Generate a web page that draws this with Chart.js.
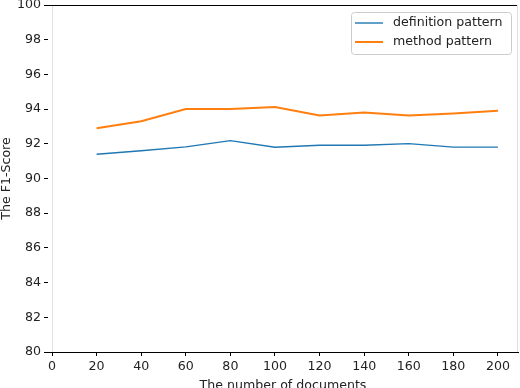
<!DOCTYPE html>
<html>
<head>
<meta charset="utf-8">
<script src="https://cdn.jsdelivr.net/npm/chart.js@4.4.1/dist/chart.umd.min.js"></script>
<style>
html,body{margin:0;padding:0;background:#fff;}
#wrap{width:520px;height:388px;position:relative;}
</style>
</head>
<body>
<div id="wrap"><canvas id="c" width="520" height="388"></canvas></div>
<script>
const docs = [20, 40, 60, 80, 100, 120, 140, 160, 180, 200];
const definitionPattern = [91.4, 91.6, 91.82, 92.18, 91.8, 91.92, 91.92, 92.01, 91.81, 91.81];
const methodPattern = [92.9, 93.3, 94.0, 94.0, 94.12, 93.63, 93.8, 93.63, 93.75, 93.9];
const seriesLabels = ['definition pattern', 'method pattern'];
const xTicks = [0, 20, 40, 60, 80, 100, 120, 140, 160, 180, 200];
const yTicks = [80, 82, 84, 86, 88, 90, 92, 94, 96, 98, 100];

const FONT = 'DejaVu Sans';
const FS = 12.6;
const toPts = (xs, ys) => xs.map((x, i) => ({x: x, y: ys[i]}));

const framePlugin = {
  id: 'frame',
  beforeDatasetsDraw(chart) {
    const {ctx, chartArea: a, scales} = chart;
    const x0 = Math.round(scales.x.getPixelForValue(0)) + 0.5;
    ctx.save();
    ctx.strokeStyle = '#e0e0e0';
    ctx.lineWidth = 1;
    ctx.beginPath();
    ctx.moveTo(x0, a.top);
    ctx.lineTo(x0, a.bottom);
    ctx.stroke();
    ctx.restore();
  },
  afterDraw(chart) {
    const {ctx, chartArea: a} = chart;
    ctx.save();
    ctx.strokeStyle = '#000';
    ctx.lineWidth = 1;
    ctx.beginPath();
    ctx.moveTo(a.left, Math.round(a.top) + 0.5);
    ctx.lineTo(a.right, Math.round(a.top) + 0.5);
    ctx.stroke();
    ctx.strokeStyle = '#e0e0e0';
    ctx.beginPath();
    ctx.moveTo(Math.round(a.right) - 0.5, a.top);
    ctx.lineTo(Math.round(a.right) - 0.5, a.bottom);
    ctx.stroke();
    // legend
    const bx = 351.5, by = 12.5, bw = 160, bh = 42, r = 3;
    ctx.fillStyle = 'rgba(255,255,255,0.8)';
    ctx.strokeStyle = '#cccccc';
    ctx.beginPath();
    ctx.moveTo(bx + r, by);
    ctx.lineTo(bx + bw - r, by);
    ctx.arcTo(bx + bw, by, bx + bw, by + r, r);
    ctx.lineTo(bx + bw, by + bh - r);
    ctx.arcTo(bx + bw, by + bh, bx + bw - r, by + bh, r);
    ctx.lineTo(bx + r, by + bh);
    ctx.arcTo(bx, by + bh, bx, by + bh - r, r);
    ctx.lineTo(bx, by + r);
    ctx.arcTo(bx, by, bx + r, by, r);
    ctx.closePath();
    ctx.fill();
    ctx.stroke();
    chart.data.datasets.forEach((ds, i) => {
      const yy = 23 + i * 19;
      ctx.strokeStyle = ds.borderColor;
      ctx.lineWidth = ds.borderWidth;
      ctx.beginPath();
      ctx.moveTo(355, yy);
      ctx.lineTo(383, yy);
      ctx.stroke();
      ctx.fillStyle = '#222';
      ctx.font = FS + 'px "' + FONT + '"';
      ctx.textBaseline = 'middle';
      ctx.textAlign = 'left';
      ctx.fillText(ds.label, 393, yy);
    });
    ctx.restore();
  }
};

new Chart(document.getElementById('c'), {
  type: 'line',
  data: {
    datasets: [
      {
        label: seriesLabels[0],
        data: toPts(docs, definitionPattern),
        borderColor: '#1f77b4',
        backgroundColor: '#1f77b4',
        borderWidth: 1.4,
        pointRadius: 0,
        tension: 0
      },
      {
        label: seriesLabels[1],
        data: toPts(docs, methodPattern),
        borderColor: '#ff7f0e',
        backgroundColor: '#ff7f0e',
        borderWidth: 2,
        pointRadius: 0,
        tension: 0
      }
    ]
  },
  options: {
    responsive: false,
    animation: false,
    events: [],
    layout: {padding: {top: 5, right: 2, left: 0, bottom: 0}},
    plugins: {legend: {display: false}, tooltip: {enabled: false}},
    scales: {
      x: {
        type: 'linear',
        min: -1.8,
        max: 209,
        afterBuildTicks(scale) { scale.ticks = xTicks.map(v => ({value: v})); },
        afterFit(scale) { scale.height = 36; scale.paddingLeft = 0; scale.paddingRight = 0; },
        grid: {display: true, drawOnChartArea: false, drawTicks: true, tickLength: 4, color: '#000'},
        border: {display: true, color: '#000', width: 1},
        ticks: {color: '#222', font: {family: FONT, size: FS}, padding: 3, maxRotation: 0, autoSkip: false},
        title: {display: true, text: 'The number of documents', color: '#222', font: {family: FONT, size: FS}, padding: {top: 0, bottom: -5}}
      },
      y: {
        type: 'linear',
        min: 80,
        max: 100,
        afterBuildTicks(scale) { scale.ticks = yTicks.map(v => ({value: v})); },
        afterFit(scale) { scale.width = 48; scale.paddingTop = 0; scale.paddingBottom = 0; },
        grid: {display: true, drawOnChartArea: false, drawTicks: true, tickLength: 4, color: '#000'},
        border: {display: false},
        ticks: {color: '#222', font: {family: FONT, size: FS}, padding: 3, autoSkip: false},
        title: {display: true, text: 'The F1-Score', color: '#222', font: {family: FONT, size: FS}, padding: {top: -1, bottom: 0}}
      }
    }
  },
  plugins: [framePlugin]
});
</script>
</body>
</html>
